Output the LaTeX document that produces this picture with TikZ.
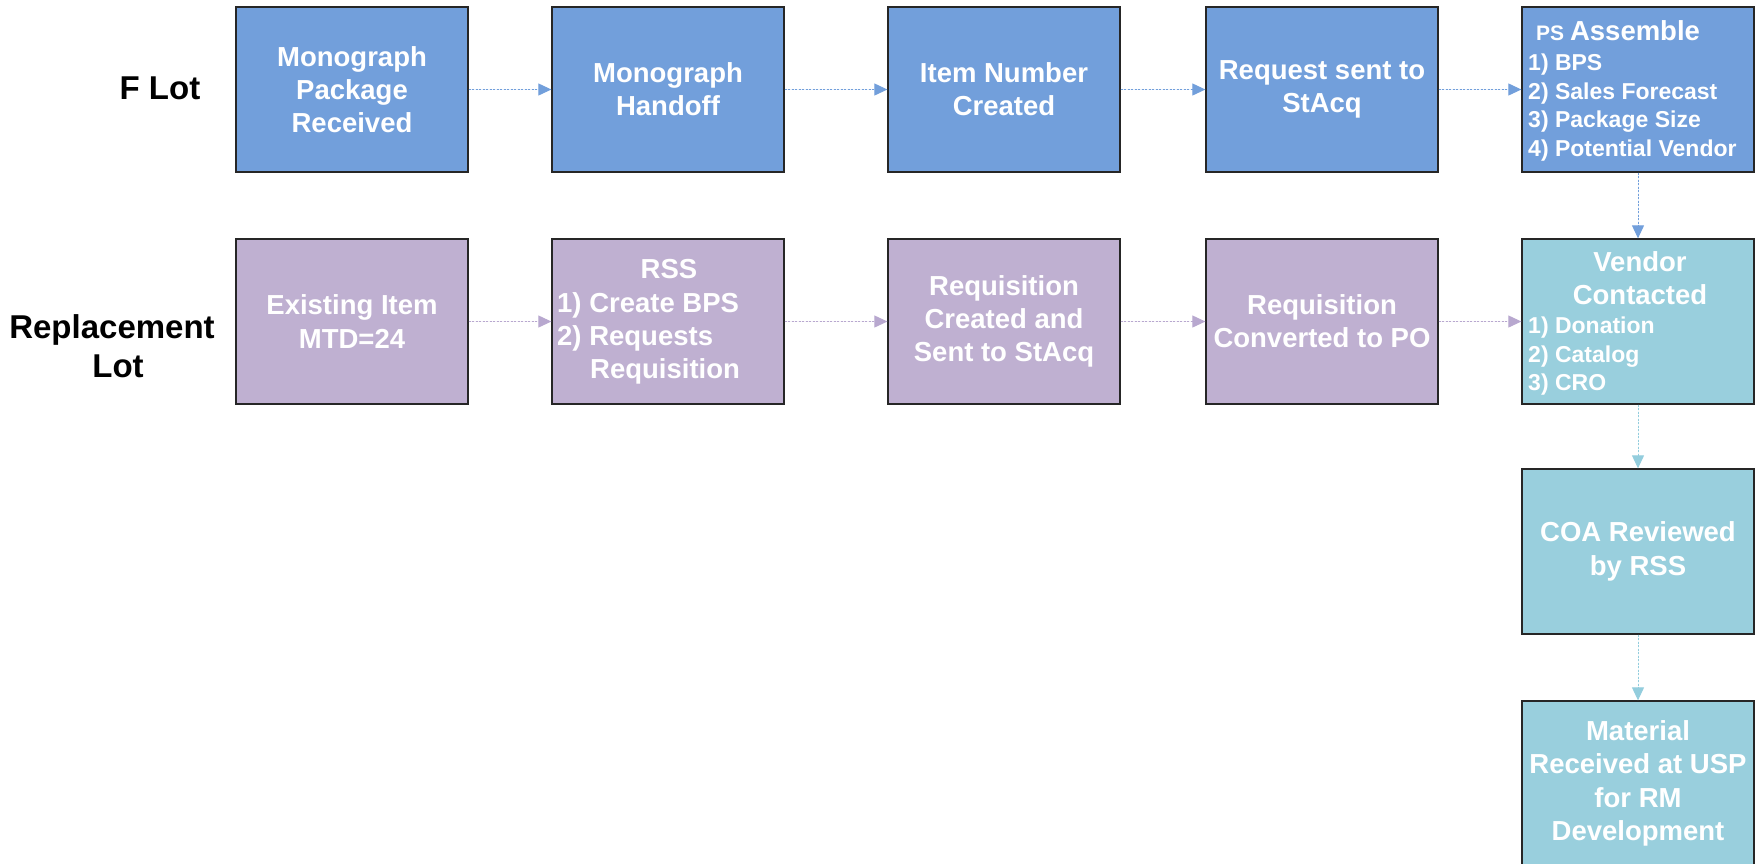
\documentclass[tikz,border=0pt]{standalone}
\usepackage{fontspec}
\setmainfont{Liberation Sans}
\usetikzlibrary{arrows.meta}
\definecolor{boxblue}{HTML}{729FDB}
\definecolor{boxpurple}{HTML}{BFB0D1}
\definecolor{boxcyan}{HTML}{99CFDD}
\definecolor{arrpurple}{HTML}{B8A8CF}
\definecolor{arrcyan}{HTML}{93CDDD}
\newcommand{\mainsz}{\fontsize{27.5}{33.3}\selectfont\bfseries}
\newcommand{\itemsz}{\fontsize{23}{28.5}\selectfont\bfseries}
\begin{document}
\begin{tikzpicture}[x=1pt,y=-1pt,
  procbox/.style={rectangle, draw=black!85, line width=1.3pt, minimum width=232pt,
    minimum height=165pt, inner sep=0pt, text=white, align=center, font=\mainsz},
  bluebox/.style={procbox, fill=boxblue},
  purplebox/.style={procbox, fill=boxpurple},
  cyanbox/.style={procbox, fill=boxcyan},
  boxtext/.style={inner sep=0pt, text=white, font=\mainsz},
  itemtext/.style={inner sep=0pt, text=white, font=\itemsz, anchor=base west},
  lanelabel/.style={inner sep=0pt, text=black, anchor=base,
    font=\fontsize{33}{39}\selectfont\bfseries},
  flow/.style={line width=1pt, dash pattern=on 2pt off 1.5pt,
    -{Triangle[length=13pt,width=12pt]}},
  flowblue/.style={flow, draw=boxblue, fill=boxblue},
  flowpurple/.style={flow, draw=arrpurple, fill=arrpurple},
  flowcyan/.style={flow, draw=arrcyan, fill=arrcyan}
]
\useasboundingbox (0,0) rectangle (1761,863);

% lane labels
\node[lanelabel] (lf) at (160,99) {F Lot};
\node[lanelabel] (lr1) at (112,338) {Replacement};
\node[lanelabel] (lr2) at (118,377) {Lot};

% row 1
\node[bluebox] (a1) at (352,89.5) {Monograph\\Package\\Received};
\node[bluebox] (a2) at (668,89.5) {Monograph\\Handoff};
\node[bluebox] (a3) at (1004,89.5) {Item Number\\Created};
\node[bluebox] (a4) at (1322,89.5) {Request sent to\\StAcq};
\node[bluebox] (a5) at (1638,89.5) {};
\node[itemtext] (a5t) at (1536,40.7) {\fontsize{21}{24}\selectfont PS \fontsize{27.5}{33}\selectfont Assemble};
\node[itemtext] (a5i1) at (1528,70.7) {1) BPS};
\node[itemtext] (a5i2) at (1528,99.2) {2) Sales Forecast};
\node[itemtext] (a5i3) at (1528,127.6) {3) Package Size};
\node[itemtext] (a5i4) at (1528,156) {4) Potential Vendor};

% row 2
\node[purplebox] (b1) at (352,321.5) {Existing Item\\MTD=24};
\node[purplebox] (b2) at (668,321.5) {};
\node[boxtext, anchor=base] (b2t) at (669,278) {RSS};
\node[boxtext, anchor=base west] (b2i1) at (557,312) {1) Create BPS};
\node[boxtext, anchor=base west] (b2i2) at (557,345) {2) Requests};
\node[boxtext, anchor=base west] (b2i3) at (590,378) {Requisition};
\node[purplebox] (b3) at (1004,321.5) {Requisition\\Created and\\Sent to StAcq};
\node[purplebox] (b4) at (1322,321.5) {Requisition\\Converted to PO};
\node[cyanbox] (c1) at (1638,321.5) {};
\node[boxtext, anchor=base] (c1t1) at (1640,271) {Vendor};
\node[boxtext, anchor=base] (c1t2) at (1640,304) {Contacted};
\node[itemtext] (c1i1) at (1528,333.5) {1) Donation};
\node[itemtext] (c1i2) at (1528,362) {2) Catalog};
\node[itemtext] (c1i3) at (1528,390.5) {3) CRO};

% column 5 lower boxes
\node[cyanbox] (c2) at (1638,551.5) {COA Reviewed\\by RSS};
\node[cyanbox] (c3) at (1638,783.5) {Material\\Received at USP\\for RM\\Development};

% connectors
\draw[flowblue] (a1.east) -- (a2.west);
\draw[flowblue] (a2.east) -- (a3.west);
\draw[flowblue] (a3.east) -- (a4.west);
\draw[flowblue] (a4.east) -- (a5.west);
\draw[flowblue] (a5.south) -- (c1.north);
\draw[flowpurple] (b1.east) -- (b2.west);
\draw[flowpurple] (b2.east) -- (b3.west);
\draw[flowpurple] (b3.east) -- (b4.west);
\draw[flowpurple] (b4.east) -- (c1.west);
\draw[flowcyan] (c1.south) -- (c2.north);
\draw[flowcyan] (c2.south) -- (c3.north);
\end{tikzpicture}
\end{document}
